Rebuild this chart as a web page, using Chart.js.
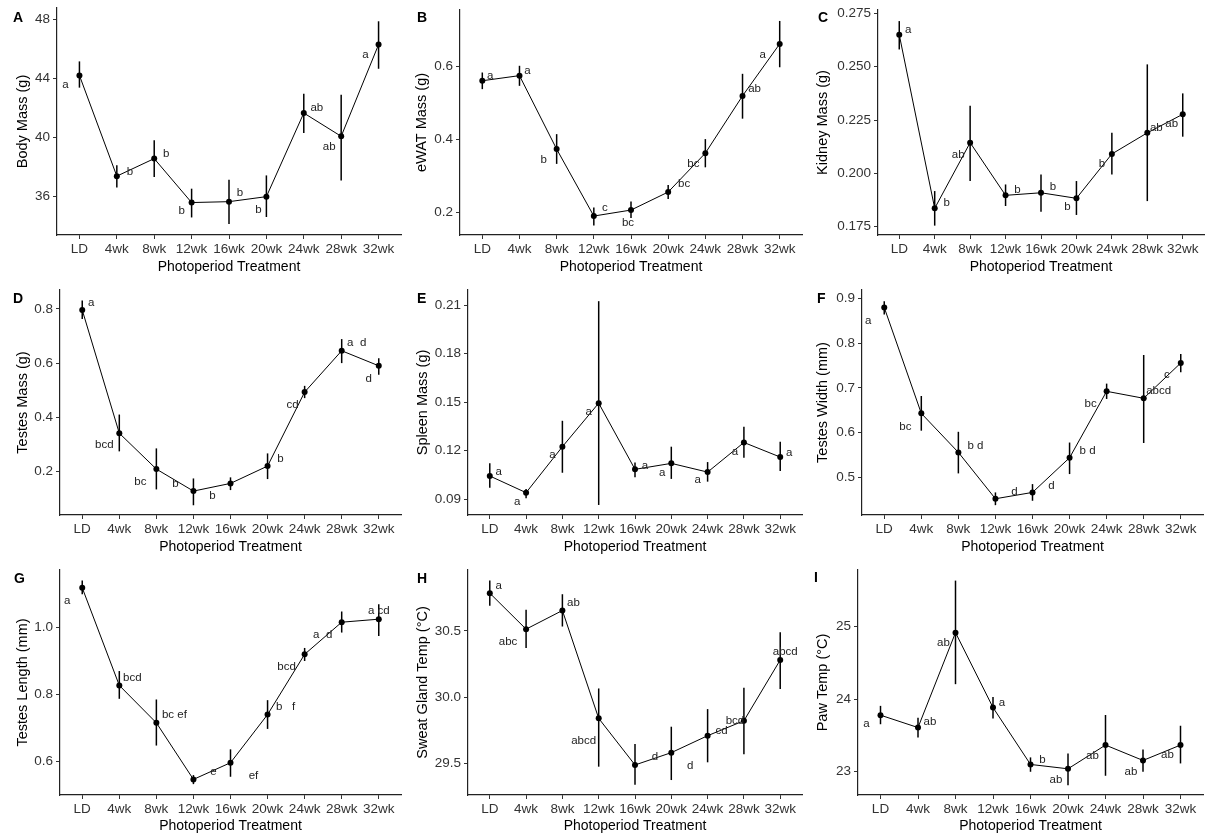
<!DOCTYPE html>
<html>
<head>
<meta charset="utf-8">
<script src="https://cdn.jsdelivr.net/npm/chart.js@4.4.0/dist/chart.umd.min.js"></script>
<style>
  html, body { margin: 0; padding: 0; background: #fff; }
  #wrap { position: relative; width: 1215px; height: 839px; overflow: hidden; }
  #wrap canvas { position: absolute; }
</style>
</head>
<body>
<div id="wrap"></div>
<script>
const categories = ['LD', '4wk', '8wk', '12wk', '16wk', '20wk', '24wk', '28wk', '32wk'];

// A - body mass
const bodyMass = [44.18, 37.35, 38.54, 35.56, 35.62, 35.96, 41.63, 40.05, 46.27];
const bodyMassHi = [45.13, 38.09, 39.78, 36.5, 37.1, 37.4, 42.94, 42.87, 47.85];
const bodyMassLo = [43.35, 36.58, 37.3, 34.55, 34.1, 34.58, 40.27, 37.06, 44.63];
const bodyMassLetters = ['a', 'b', 'b', 'b', 'b', 'b', 'ab', 'ab', 'a'];
const bodyMassTicks = ['36', '40', '44', '48'];

// B - eWAT mass
const ewatMass = [0.561, 0.575, 0.3735, 0.19, 0.2064, 0.2558, 0.3625, 0.5195, 0.662];
const ewatMassHi = [0.5836, 0.602, 0.4146, 0.2137, 0.23, 0.275, 0.401, 0.58, 0.725];
const ewatMassLo = [0.538, 0.547, 0.333, 0.164, 0.1845, 0.2366, 0.3236, 0.457, 0.598];
const ewatLetters = ['a', 'a', 'b', 'c', 'bc', 'bc', 'bc', 'ab', 'a'];
const ewatTicks = ['0.2', '0.4', '0.6'];

// C - kidney mass
const kidneyMass = [0.265, 0.1836, 0.2144, 0.1897, 0.1909, 0.1883, 0.2091, 0.219, 0.2277];
const kidneyMassHi = [0.2714, 0.1917, 0.2317, 0.1948, 0.1995, 0.1964, 0.219, 0.2511, 0.2375];
const kidneyMassLo = [0.2581, 0.1755, 0.1964, 0.1847, 0.182, 0.1805, 0.1995, 0.187, 0.2172];
const kidneyLetters = ['a', 'b', 'ab', 'b', 'b', 'b', 'b', 'ab', 'ab'];
const kidneyTicks = ['0.175', '0.200', '0.225', '0.250', '0.275'];

// D - testes mass
const testesMass = [0.796, 0.341, 0.2086, 0.1273, 0.1557, 0.2197, 0.4929, 0.6456, 0.59];
const testesMassHi = [0.831, 0.41, 0.285, 0.174, 0.178, 0.2665, 0.516, 0.6887, 0.618];
const testesMassLo = [0.763, 0.274, 0.1335, 0.075, 0.131, 0.1717, 0.4707, 0.6, 0.557];
const testesMassLetters = ['a', 'bcd', 'bc', 'b', 'b', 'b', 'cd', 'a  d', 'd'];
const testesMassTicks = ['0.2', '0.4', '0.6', '0.8'];

// E - spleen mass
const spleenMass = [0.1044, 0.0941, 0.1225, 0.1494, 0.1085, 0.1122, 0.1068, 0.1251, 0.1161];
const spleenMassHi = [0.1122, 0.0964, 0.1385, 0.2124, 0.1128, 0.1225, 0.113, 0.1348, 0.1256];
const spleenMassLo = [0.0972, 0.0906, 0.1064, 0.0865, 0.1036, 0.1026, 0.1009, 0.1157, 0.1075];
const spleenLetters = ['a', 'a', 'a', 'a', 'a', 'a', 'a', 'a', 'a'];
const spleenTicks = ['0.09', '0.12', '0.15', '0.18', '0.21'];

// F - testes width
const testesWidth = [0.8799, 0.6432, 0.556, 0.4523, 0.4665, 0.544, 0.6925, 0.6769, 0.7559];
const testesWidthHi = [0.894, 0.682, 0.602, 0.4665, 0.4851, 0.578, 0.7097, 0.7737, 0.776];
const testesWidthLo = [0.864, 0.6045, 0.509, 0.438, 0.4478, 0.5075, 0.6754, 0.577, 0.735];
const testesWidthLetters = ['a', 'bc', 'b d', 'd', 'd', 'b d', 'bc', 'abcd', 'c'];
const testesWidthTicks = ['0.5', '0.6', '0.7', '0.8', '0.9'];

// G - testes length
const testesLength = [1.1177, 0.826, 0.7142, 0.5451, 0.595, 0.739, 0.919, 1.015, 1.024];
const testesLengthHi = [1.1397, 0.869, 0.784, 0.558, 0.635, 0.782, 0.938, 1.047, 1.069];
const testesLengthLo = [1.0988, 0.786, 0.6463, 0.531, 0.553, 0.696, 0.899, 0.984, 0.974];
const testesLengthLetters = ['a', 'bcd', 'bc ef', 'e', 'ef', 'b   f', 'bcd', 'a  d', 'a cd'];
const testesLengthTicks = ['0.6', '0.8', '1.0'];

// H - sweat gland temperature
const sweatTemp = [30.785, 30.513, 30.654, 29.839, 29.487, 29.58, 29.708, 29.821, 30.28];
const sweatTempHi = [30.88, 30.66, 30.777, 30.065, 29.646, 29.776, 29.909, 30.07, 30.489];
const sweatTempLo = [30.69, 30.37, 30.533, 29.474, 29.337, 29.373, 29.507, 29.567, 30.06];
const sweatLetters = ['a', 'abc', 'ab', 'abcd', 'd', 'd', 'cd', 'bcd', 'abcd'];
const sweatTicks = ['29.5', '30.0', '30.5'];

// I - paw temperature
const pawTemp = [23.78, 23.609, 24.917, 23.885, 23.101, 23.041, 23.368, 23.156, 23.368];
const pawTempHi = [23.908, 23.743, 25.634, 24.03, 23.198, 23.253, 23.782, 23.308, 23.634];
const pawTempLo = [23.655, 23.471, 24.207, 23.733, 23.0, 22.816, 22.945, 23.0, 23.115];
const pawLetters = ['a', 'ab', 'ab', 'a', 'b', 'ab', 'ab', 'ab', 'ab'];
const pawTicks = ['23', '24', '25'];

// where each significance letter sits relative to its point (px)
const bodyMassLabelPos = [[-14, 9], [13, -4], [12, -5], [-10, 8], [11, -9], [-8, 13], [13, -5], [-12, 11], [-13, 10]];
const ewatLabelPos = [[8, -5], [8, -5], [-13, 11], [11, -8], [-3, 13], [16, -8], [-12, 11], [12, -7], [-17, 11]];
const kidneyLabelPos = [[9, -5], [12, -6], [-12, 12], [12, -6], [12, -6], [-9, 9], [-10, 10], [9, -5], [-11, 10]];
const testesMassLabelPos = [[9, -7], [-15, 12], [-16, 13], [-18, -7], [-18, 12], [13, -7], [-12, 13], [15, -8], [-10, 13]];
const spleenLabelPos = [[9, -4], [-9, 9], [-10, 8], [-10, 9], [10, -4], [-9, 9], [-10, 8], [-9, 9], [9, -4]];
const testesWidthLabelPos = [[-16, 13], [-16, 13], [17, -7], [19, -7], [19, -7], [18, -7], [-16, 13], [15, -7], [-14, 12]];
const testesLengthLabelPos = [[-15, 13], [13, -8], [18, -8], [20, -8], [23, 13], [18, -8], [-18, 13], [-19, 13], [0, -8]];
const sweatLabelPos = [[9, -7], [-18, 13], [11, -8], [-15, 22], [20, -8], [19, 13], [14, -5], [-9, 0], [5, -8]];
const pawLabelPos = [[-14, 9], [12, -6], [-12, 10], [9, -5], [12, -5], [-12, 11], [-13, 11], [-12, 11], [-13, 10]];

const FONT = "'Liberation Sans', Arial, sans-serif";
const Y_TITLE_SIZE = 14.5;

// cell = [left, top, width, height], plot = [left, top, right, bottom]
const panels = [
  { tag: 'A', yTitle: 'Body Mass (g)', values: bodyMass, hi: bodyMassHi, lo: bodyMassLo, letters: bodyMassLetters, pos: bodyMassLabelPos, ticks: bodyMassTicks, yMin: 33.36, yMax: 48.75,
    cell: [0, 0, 405, 280], plot: [57, 8, 401, 235], titleX: 23, tagXY: [13, 18] },
  { tag: 'B', yTitle: 'eWAT Mass (g)', values: ewatMass, hi: ewatMassHi, lo: ewatMassLo, letters: ewatLetters, pos: ewatLabelPos, ticks: ewatTicks, yMin: 0.138, yMax: 0.755,
    cell: [405, 0, 405, 280], plot: [460, 10, 802, 235], titleX: 422, tagXY: [417, 18] },
  { tag: 'C', yTitle: 'Kidney Mass (g)', values: kidneyMass, hi: kidneyMassHi, lo: kidneyMassLo, letters: kidneyLetters, pos: kidneyLabelPos, ticks: kidneyTicks, yMin: 0.1711, yMax: 0.2766,
    cell: [810, 0, 405, 280], plot: [878, 10, 1204, 235], titleX: 823, tagXY: [818, 18] },
  { tag: 'D', yTitle: 'Testes Mass (g)', values: testesMass, hi: testesMassHi, lo: testesMassLo, letters: testesMassLetters, pos: testesMassLabelPos, ticks: testesMassTicks, yMin: 0.039, yMax: 0.87,
    cell: [0, 280, 405, 280], plot: [60, 290, 401, 515], titleX: 23, tagXY: [13, 299] },
  { tag: 'E', yTitle: 'Spleen Mass (g)', values: spleenMass, hi: spleenMassHi, lo: spleenMassLo, letters: spleenLetters, pos: spleenLabelPos, ticks: spleenTicks, yMin: 0.0803, yMax: 0.2193,
    cell: [405, 280, 405, 280], plot: [468, 290, 802, 515], titleX: 423, tagXY: [417, 299] },
  { tag: 'F', yTitle: 'Testes Width (mm)', values: testesWidth, hi: testesWidthHi, lo: testesWidthLo, letters: testesWidthLetters, pos: testesWidthLabelPos, ticks: testesWidthTicks, yMin: 0.416, yMax: 0.919,
    cell: [810, 280, 405, 280], plot: [862, 290, 1203, 515], titleX: 823, tagXY: [817, 299] },
  { tag: 'G', yTitle: 'Testes Length (mm)', values: testesLength, hi: testesLengthHi, lo: testesLengthLo, letters: testesLengthLetters, pos: testesLengthLabelPos, ticks: testesLengthTicks, yMin: 0.4985, yMax: 1.171,
    cell: [0, 560, 405, 279], plot: [60, 570, 401, 795], titleX: 23, tagXY: [14, 579] },
  { tag: 'H', yTitle: 'Sweat Gland Temp (°C)', values: sweatTemp, hi: sweatTempHi, lo: sweatTempLo, letters: sweatLetters, pos: sweatLabelPos, ticks: sweatTicks, yMin: 29.26, yMax: 30.96,
    cell: [405, 560, 405, 279], plot: [468, 570, 802, 795], titleX: 423, tagXY: [417, 579] },
  { tag: 'I', yTitle: 'Paw Temp (°C)', values: pawTemp, hi: pawTempHi, lo: pawTempLo, letters: pawLetters, pos: pawLabelPos, ticks: pawTicks, yMin: 22.68, yMax: 25.78,
    cell: [810, 560, 405, 279], plot: [858, 570, 1203, 795], titleX: 823, tagXY: [814, 578] }
];

function makePanel(p) {
  const [cl, ct, cw, ch] = p.cell;
  const [pl, pt, pr, pb] = p.plot;

  const canvas = document.createElement('canvas');
  canvas.width = cw;
  canvas.height = ch;
  canvas.style.left = cl + 'px';
  canvas.style.top = ct + 'px';
  document.getElementById('wrap').appendChild(canvas);

  // error bars under the points, letters and panel tag on top
  const extras = {
    id: 'extras' + p.tag,
    beforeDatasetsDraw(chart) {
      const { ctx, scales: { x, y } } = chart;
      ctx.save();
      ctx.strokeStyle = '#000';
      ctx.lineWidth = 1.5;
      p.hi.forEach((h, i) => {
        const px = x.getPixelForValue(i);
        ctx.beginPath();
        ctx.moveTo(px, y.getPixelForValue(p.lo[i]));
        ctx.lineTo(px, y.getPixelForValue(h));
        ctx.stroke();
      });
      ctx.restore();
    },
    afterDatasetsDraw(chart) {
      const { ctx, scales: { x, y } } = chart;
      ctx.save();
      ctx.font = '11.5px ' + FONT;
      ctx.fillStyle = '#222';
      ctx.textAlign = 'center';
      ctx.textBaseline = 'middle';
      p.letters.forEach((txt, i) => {
        ctx.fillText(txt, x.getPixelForValue(i) + p.pos[i][0], y.getPixelForValue(p.values[i]) + p.pos[i][1]);
      });
      ctx.font = 'bold 14px ' + FONT;
      ctx.fillStyle = '#000';
      ctx.textAlign = 'left';
      ctx.fillText(p.tag, p.tagXY[0] - cl, p.tagXY[1] - ct);
      ctx.restore();
    }
  };

  new Chart(canvas, {
    type: 'line',
    data: {
      datasets: [{
        data: p.values.map((v, i) => ({ x: i, y: v })),
        borderColor: '#000',
        borderWidth: 1,
        pointRadius: 3,
        pointBackgroundColor: '#000',
        pointBorderWidth: 0,
        tension: 0
      }]
    },
    options: {
      responsive: false,
      animation: false,
      layout: { padding: { left: 0, top: pt - ct, right: cl + cw - pr, bottom: 0 } },
      plugins: { legend: { display: false }, tooltip: { enabled: false } },
      scales: {
        x: {
          type: 'linear',
          min: -0.6,
          max: 8.6,
          bounds: 'data',
          grid: { display: true, drawOnChartArea: false, drawTicks: true, tickLength: 4, color: '#333', lineWidth: 1 },
          border: { display: true, color: '#222', width: 1.2 },
          ticks: {
            autoSkip: false, maxRotation: 0, padding: 2,
            color: '#333', font: { family: FONT, size: 13.5 },
            callback: v => categories[v]
          },
          title: { display: true, text: 'Photoperiod Treatment', color: '#000', font: { family: FONT, size: 14 }, padding: { top: 0, bottom: 4.5 } },
          afterBuildTicks: s => { s.ticks = categories.map((c, i) => ({ value: i })); },
          afterFit: s => { s.height = ct + ch - pb; s.paddingLeft = 0; s.paddingRight = 0; }
        },
        y: {
          type: 'linear',
          min: p.yMin,
          max: p.yMax,
          bounds: 'data',
          grid: { display: true, drawOnChartArea: false, drawTicks: true, tickLength: 4, color: '#333', lineWidth: 1 },
          border: { display: true, color: '#222', width: 1.2 },
          ticks: {
            padding: 3, color: '#333', font: { family: FONT, size: 13.5 },
            callback: (v, i) => p.ticks[i]
          },
          title: { display: true, text: p.yTitle, color: '#000', font: { family: FONT, size: Y_TITLE_SIZE }, padding: { top: p.titleX - cl - Y_TITLE_SIZE * 0.6, bottom: 0 } },
          afterBuildTicks: s => { s.ticks = p.ticks.map(t => ({ value: parseFloat(t) })); },
          afterFit: s => { s.width = pl - cl; s.paddingTop = 0; s.paddingBottom = 0; }
        }
      }
    },
    plugins: [extras]
  });
}

panels.forEach(makePanel);
</script>
</body>
</html>
